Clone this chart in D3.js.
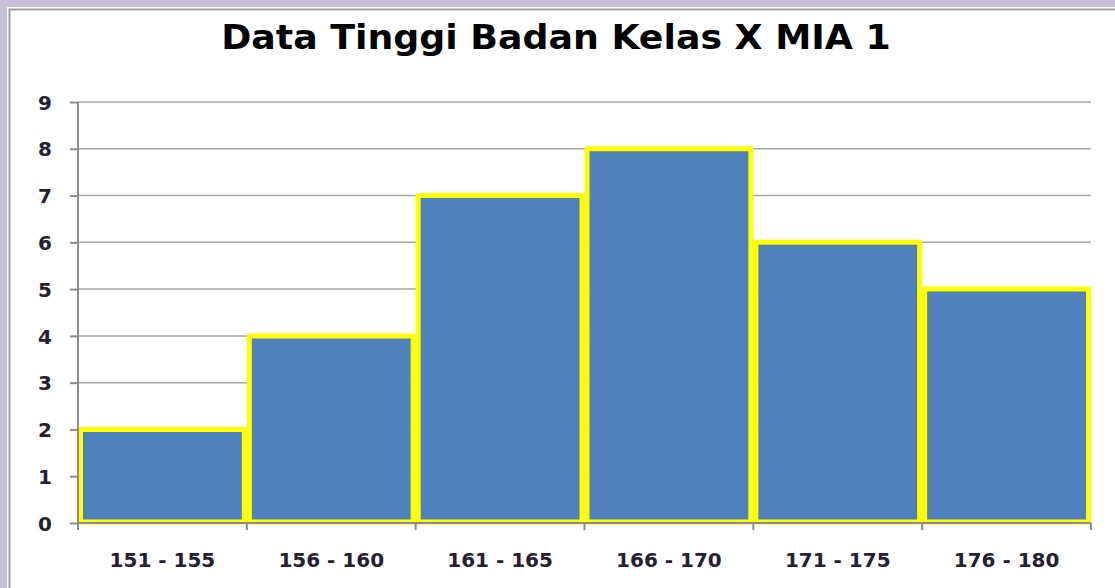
<!DOCTYPE html>
<html>
<head>
<meta charset="utf-8">
<script src="https://cdn.jsdelivr.net/npm/d3@7"></script>
<style>
  html, body { margin: 0; padding: 0; background: #fff; }
  svg { display: block; }
  .tick text { font-family: "DejaVu Sans", sans-serif; font-weight: bold; font-size: 20px; fill: #262030; }
</style>
</head>
<body>
<script>
// chart values
const categories = ["151 - 155", "156 - 160", "161 - 165", "166 - 170", "171 - 175", "176 - 180"];
const counts = [2, 4, 7, 8, 6, 5];
const yTicks = [0, 1, 2, 3, 4, 5, 6, 7, 8, 9];
const title = "Data Tinggi Badan Kelas X MIA 1";

const width = 1115, height = 588;
const plotLeft = 78, plotRight = 1091, plotTop = 102, plotBottom = 523;

const svg = d3.select("body").append("svg")
    .attr("width", width)
    .attr("height", height);

// outer frame (lavender strip + gray border)
svg.append("rect").attr("x", 0).attr("y", 0).attr("width", width).attr("height", height).attr("fill", "#c8c0da");
svg.append("rect").attr("x", 7).attr("y", 7).attr("width", width).attr("height", height).attr("fill", "#fff");
svg.append("path")
    .attr("d", `M9.5,${height} V9.5 H${width}`)
    .attr("fill", "none")
    .attr("stroke", "#a0a0a0")
    .attr("stroke-width", 2);

const x = d3.scaleBand().domain(categories).range([plotLeft, plotRight]).padding(0);
const y = d3.scaleLinear().domain([0, 9]).range([plotBottom, plotTop]);

// title (slightly stretched, like the source picture)
svg.append("text")
    .attr("transform", "translate(556,49) scale(1.1,1)")
    .attr("text-anchor", "middle")
    .style("font-family", "DejaVu Sans, sans-serif")
    .style("font-weight", "bold")
    .style("font-size", "33px")
    .style("fill", "#000")
    .text(title);

// gridlines
svg.append("g")
    .selectAll("line")
    .data(yTicks.slice(1))
    .enter().append("line")
    .attr("x1", plotLeft).attr("x2", plotRight)
    .attr("y1", d => y(d)).attr("y2", d => y(d))
    .attr("stroke", "#a6a6a6")
    .attr("stroke-width", 1.5);

// bars
svg.append("g")
    .selectAll("rect")
    .data(counts)
    .enter().append("rect")
    .attr("x", (d, i) => x(categories[i]) + 2.5)
    .attr("width", x.bandwidth() - 5)
    .attr("y", d => y(d))
    .attr("height", d => y(0) - y(d) - 1)
    .attr("fill", "#4f81bd")
    .attr("stroke", "#ffff00")
    .attr("stroke-width", 5)
    .attr("stroke-linejoin", "round");

// y axis
const yAxis = svg.append("g")
    .attr("transform", `translate(${plotLeft},0)`)
    .call(d3.axisLeft(y).tickValues(yTicks).tickSize(8).tickPadding(18).tickFormat(d3.format("d")));
yAxis.selectAll("line, path").attr("stroke", "#8c8c8c").attr("stroke-width", 2);
yAxis.select(".domain").attr("d", `M0,${plotTop}V${plotBottom + 7}`);
yAxis.selectAll(".tick text").attr("dy", "0.36em");

// x axis with ticks at category boundaries
const xAxis = svg.append("g")
    .attr("transform", `translate(0,${plotBottom})`)
    .call(d3.axisBottom(x).tickSize(0).tickPadding(44));
xAxis.select(".domain").attr("stroke", "#8c8c8c").attr("stroke-width", 2).attr("d", `M${plotLeft},0H${plotRight}`);
xAxis.selectAll(".tick text").attr("dy", "0");
xAxis.append("g")
    .selectAll("line")
    .data(categories.map(c => x(c)).concat([plotRight]))
    .enter().append("line")
    .attr("x1", d => d).attr("x2", d => d)
    .attr("y1", 0).attr("y2", 7)
    .attr("stroke", "#8c8c8c")
    .attr("stroke-width", 2);
</script>
</body>
</html>
